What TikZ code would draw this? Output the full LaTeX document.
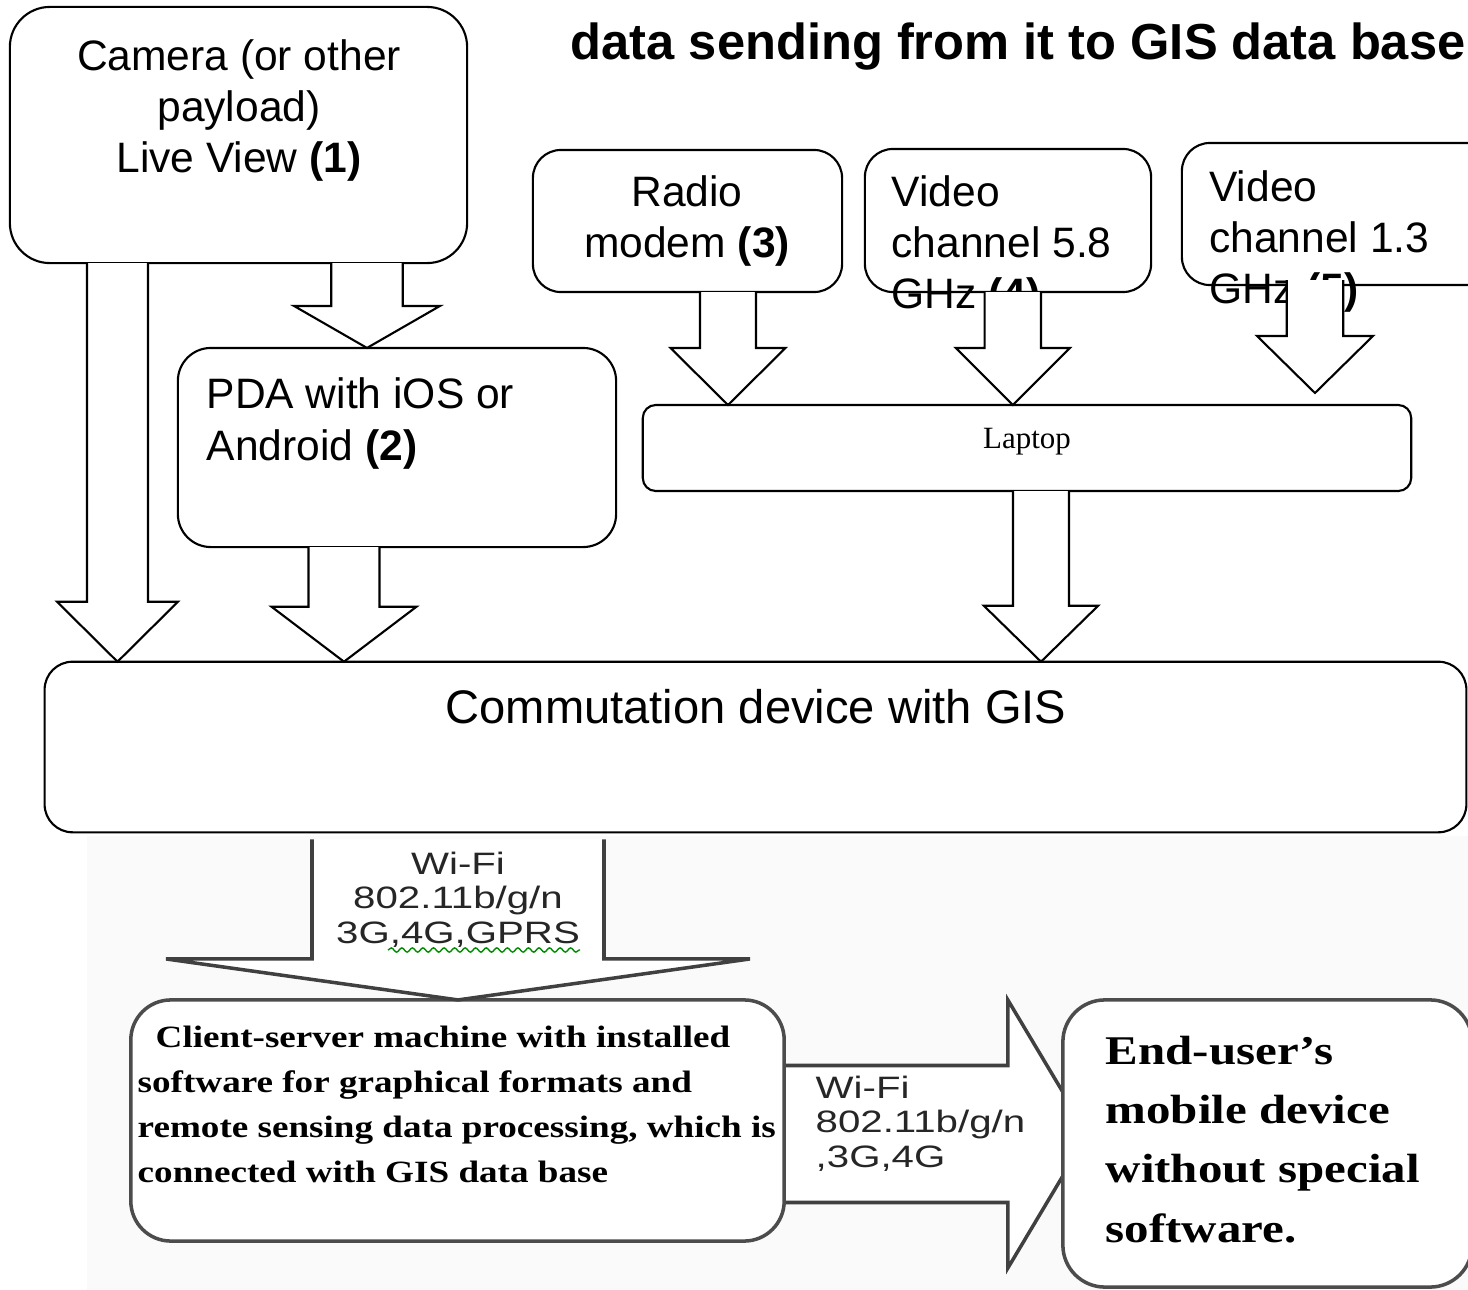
\documentclass[tikz,border=0pt]{standalone}
\usepackage{fontspec}
\setmainfont{Liberation Sans}
\newfontfamily\timesfont{Liberation Serif}
\newfontfamily\widetimes[FakeStretch=1.2]{Liberation Serif}
\newfontfamily\widearial[FakeStretch=1.3]{Liberation Sans}
\usetikzlibrary{calc,backgrounds,decorations.pathmorphing}

% block arrow pointing down: x, start, tip, half shaft, half head, head length
\newcommand{\fatarrow}[7][fat]{%
  \draw[#1] (#2,0 |- #3) coordinate (fa) (#2,0 |- #4) coordinate (fb)
    ($(fa)+(-#5,0)$) -- ($(fb)+(-#5,-#7)$) -- ($(fb)+(-#6,-#7)$) -- (fb)
    -- ($(fb)+(#6,-#7)$) -- ($(fb)+(#5,-#7)$) -- ($(fa)+(#5,0)$);}

\begin{document}
\begin{tikzpicture}[x=0.01cm, y=-0.01cm,
  box/.style={draw, fill=white, line width=0.6pt, rounded corners=#1, inner sep=0pt, outer sep=0pt},
  box/.default=0.28cm,
  gbox/.style={draw=black!70, fill=white, line width=1pt, rounded corners=#1, inner sep=0pt, outer sep=0pt},
  gbox/.default=0.42cm,
  txt/.style={inner sep=0pt, font=\fontsize{12.1}{14.5}\selectfont},
  wifi/.style={inner sep=0pt, text=black!85, font=\widearial\fontsize{8.8}{9.8}\selectfont},
  fat/.style={draw, fill=white, line width=0.6pt},
  fatg/.style={draw=black!75, fill=white, line width=1pt},
]
\useasboundingbox (0,0) rectangle (1468,1290);

\begin{scope}[on background layer]
  \fill[black!2] (87,836) rectangle (1468,1290);
\end{scope}

% title
\node[anchor=base west, inner sep=0pt, font=\bfseries\fontsize{14.4}{17}\selectfont] (title) at (570,59) {data sending from it to GIS data base};

% sources
\node[box=0.4cm, minimum width=4.57cm, minimum height=2.56cm] (cam) at (238.5,135) {};
\node[box=0.33cm, minimum width=4.38cm, minimum height=1.99cm] (pda) at (397,447.5) {};
\node[box, minimum width=3.09cm, minimum height=1.42cm] (radio) at (687.5,221) {};
\node[box, minimum width=2.86cm, minimum height=1.43cm] (vid58) at (1008,220.5) {};
\node[box, minimum width=3.13cm, minimum height=1.42cm] (vid13) at (1338.5,214) {};
\node[box=0.13cm, minimum width=7.68cm, minimum height=0.86cm] (laptop) at (1027,448) {};
\node[box, minimum width=14.21cm, minimum height=1.705cm] (comm) at (755.5,747) {};

\node[txt, anchor=north, align=center] (camtxt) at (239,39) {Camera (or other\\payload)\\Live View \textbf{(1)}};
\node[txt, anchor=north west, align=left, font=\fontsize{12.1}{14.8}\selectfont] (pdatxt) at (206,376.5) {PDA with iOS or\\Android \textbf{(2)}};
\node[txt, anchor=north, align=center] (radiotxt) at (687,174.5) {Radio\\modem \textbf{(3)}};
\node[txt, anchor=north west, align=left] (vid58txt) at (891,174.5) {Video\\channel 5.8\\GHz \textbf{(4)}};
\node[txt, anchor=north west, align=left] (vid13txt) at (1208.6,169.5) {Video\\channel 1.3\\GHz \textbf{(5)}};
\node[anchor=base, inner sep=0pt, font=\timesfont\fontsize{8.8}{10}\selectfont] (laptoptxt) at (1027,448) {Laptop};
\node[anchor=base, inner sep=0pt, font=\fontsize{13.4}{16}\selectfont] (commtxt) at (756,723) {Commutation device with GIS};

\coordinate (v13a) at ($(vid13.south)+(0,-5)$);
\coordinate (v13b) at ($(laptop.north)+(0,-12)$);

\fatarrow{117.5}{cam.south}{comm.north}{30.5}{60.5}{60}
\fatarrow{367}{cam.south}{pda.north}{35.75}{73}{42}
\fatarrow{344}{pda.south}{comm.north}{35.5}{72.5}{55}
\fatarrow{728}{radio.south}{laptop.north}{28}{57.5}{57}
\fatarrow{1012.8}{vid58.south}{laptop.north}{28.2}{57}{57}
\fatarrow{1315}{v13a}{v13b}{28.2}{58}{57}
\fatarrow{1041}{laptop.south}{comm.north}{28}{57.2}{56}

% pasted lower part
\node[gbox=0.4cm, minimum width=6.53cm, minimum height=2.41cm] (client) at (457.5,1120.5) {};
\node[gbox, minimum width=4.09cm, minimum height=2.87cm] (enduser) at (1267.5,1143.5) {};

\coordinate (wa) at ($(comm.south)+(0,7)$);
\fatarrow[fatg]{458}{wa}{client.north}{146}{292}{41}

\begin{scope}[on background layer]
  \path (client.east |- 0,1134) coordinate (ra) ($(enduser.west |- 0,1134)+(25,0)$) coordinate (rb);
  \draw[fatg] ($(ra)+(0,-68.5)$) -- ($(rb)+(-80,-68.5)$) -- ($(rb)+(-80,-134)$) -- (rb)
    -- ($(rb)+(-80,134)$) -- ($(rb)+(-80,68.5)$) -- ($(ra)+(0,68.5)$);
\end{scope}

\node[wifi, anchor=north, align=center] (wifia) at (458,851) {Wi-Fi\\802.11b/g/n\\3G,4G,GPRS};
\draw[green!55!black, line width=0.4pt, decorate, decoration={snake, amplitude=0.6pt, segment length=3pt}] (388,950) -- (580,950);
\node[wifi, anchor=north west, align=left] (wifib) at (815,1075) {Wi-Fi\\802.11b/g/n\\,3G,4G};

\node[anchor=north west, inner sep=0pt, align=left, font=\widetimes\bfseries\fontsize{8.8}{12.8}\selectfont] (clienttxt) at (137,1025) {\hspace*{0.18cm}Client-server machine with installed\\software for graphical formats and\\remote sensing data processing, which is\\connected with GIS data base};
\node[anchor=north west, inner sep=0pt, align=left, font=\widetimes\bfseries\fontsize{11.6}{16.9}\selectfont] (endtxt) at (1105,1035) {End-user’s\\mobile device\\without special\\software.};

\end{tikzpicture}
\end{document}
